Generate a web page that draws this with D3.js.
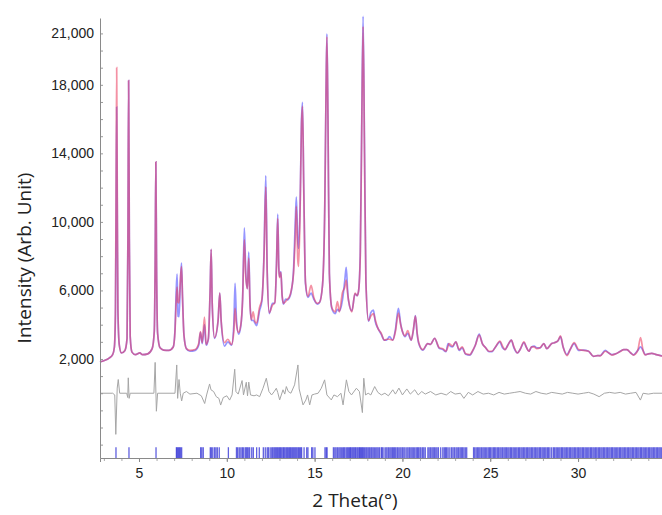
<!DOCTYPE html>
<html>
<head>
<meta charset="utf-8">
<script src="https://d3js.org/d3.v7.min.js"></script>
<style>
  body { margin: 0; background: #fff; }
  .tick text { font-family: "Liberation Sans", Arial, sans-serif; font-size: 14px; fill: #222; }
  .title { font-family: "Open Sans", sans-serif; font-size: 19px; fill: #222; }
</style>
</head>
<body>
<div id="chart"></div>
<script>
// 2 theta grid shared by observed and calculated profiles
var twoTheta = [2.78,3.0,3.3,3.5,3.6,3.66,3.70,3.73,3.76,3.80,3.88,4.0,4.20,4.32,4.37,4.41,4.45,4.50,4.60,4.8,
  5.05,5.2,5.5,5.75,5.87,5.92,5.96,6.00,6.06,6.2,6.4,6.7,6.95,7.05,7.12,7.17,7.22,7.28,7.35,7.42,
  7.48,7.56,7.7,7.9,8.2,8.4,8.5,8.6,8.73,8.82,8.95,9.05,9.11,9.17,9.3,9.5,9.6,9.68,9.87,10.06,
  10.27,10.40,10.47,10.55,10.67,10.8,10.9,11.0,11.08,11.17,11.25,11.32,11.4,11.5,11.6,11.7,11.86,12.0,12.12,12.22,
  12.30,12.42,12.6,12.74,12.83,12.90,12.96,13.0,13.08,13.15,13.23,13.35,13.45,13.55,13.68,13.8,13.90,13.96,14.04,14.09,
  14.18,14.25,14.31,14.38,14.48,14.62,14.8,14.95,15.15,15.28,15.45,15.58,15.65,15.70,15.76,15.84,15.98,16.17,16.3,16.41,
  16.58,16.72,16.80,16.88,16.93,17.12,17.3,17.42,17.5,17.6,17.68,17.76,17.84,17.92,18.07,18.2,18.35,18.45,18.6,18.79,
  18.97,19.1,19.26,19.45,19.6,19.77,19.9,20.0,20.15,20.3,20.5,20.62,20.74,20.84,20.93,21.16,21.44,21.6,21.83,22.1,
  22.3,22.48,22.6,22.66,22.85,23.04,23.23,23.4,23.6,23.85,23.98,24.15,24.37,24.55,24.74,24.93,25.1,25.3,25.55,25.7,
  25.84,26.0,26.2,26.35,26.55,26.7,26.92,27.05,27.2,27.35,27.5,27.65,27.84,28.05,28.22,28.5,28.65,28.85,29.0,29.15,
  29.37,29.55,29.78,30.03,30.3,30.6,30.88,31.1,31.26,31.55,31.75,31.93,32.15,32.4,32.6,32.78,33.0,33.16,33.4,33.56,
  33.7,33.83,34.0,34.2,34.45,34.78];

var observed = [1820,1900,2050,2250,2700,5000,13000,19000,12500,5000,2800,2350,2500,3200,9000,18250,9000,3300,2400,2250,
  2350,2250,2300,2600,3600,7500,13500,7500,3500,2650,2520,2500,2700,3600,5400,6200,5300,5270,6500,7390,
  5500,3400,2600,2500,2550,2900,3600,2950,4450,2850,3200,6000,8400,5200,3250,4200,5850,4200,2950,3150,
  2850,3600,4950,4000,3550,4000,5500,8950,6800,6100,7880,5200,4300,4750,4200,4100,5000,5500,8000,12050,
  7000,4700,5150,5300,7500,10200,7300,6750,7050,5700,5250,5350,5500,5600,6050,7000,9200,10900,7800,7400,
  11000,15500,16750,12000,6500,5650,6300,5600,5250,5300,6300,11000,17500,20800,16000,7000,5000,4750,5350,4750,
  5850,6200,6600,5800,5450,4750,5850,5700,5950,8000,15000,21400,14000,6500,4250,4500,4650,4300,3800,3500,
  3100,3150,3150,3100,3600,4670,4000,3600,3350,3650,3100,3700,4500,3500,2950,2550,2900,2850,3200,2650,
  2600,2450,2750,2900,2750,3000,2550,2700,2300,2250,2450,2800,3400,2900,2650,2450,2450,2700,3050,2750,
  2550,2800,3100,2700,2350,2550,3000,2700,2450,2700,2700,2600,2650,2900,2600,2900,2950,3050,3350,2700,
  2200,2550,2950,2550,2500,2450,2150,2200,2180,2450,2350,2230,2300,2430,2550,2550,2350,2230,2500,3250,
  2500,2240,2300,2330,2250,2170];

var calculated = [1820,1900,2050,2250,2700,4600,11500,16700,11200,4700,2800,2350,2500,3200,9000,18250,9000,3300,2400,2250,
  2350,2250,2300,2600,3600,7500,13500,7500,3500,2650,2520,2500,2700,3700,6000,6950,4500,4470,6300,7590,
  5600,3400,2600,2450,2500,2800,3550,2900,4000,2800,3150,6000,8400,5200,3200,4200,5850,4200,2750,3000,
  2800,4000,6420,4300,3450,3950,5500,9650,7000,6100,8230,5300,4250,4250,4100,3950,4800,5400,8200,12700,
  7200,4650,5250,5250,7600,10450,7400,6800,7100,5700,5200,5500,5450,5550,6000,7200,10000,11450,8900,8450,
  11300,15800,16980,12200,6400,5600,5850,5500,5200,5300,6300,11000,17600,20980,16100,7000,4950,4650,4900,4800,
  5400,6600,7350,6000,5400,4800,5800,5700,5950,8200,15500,22000,14500,6600,4200,4700,4850,4200,3800,3450,
  3100,3100,3300,3100,3700,4960,4050,3600,3300,3500,3100,3650,4530,3450,2900,2520,2900,2850,3200,2620,
  2550,2420,2900,2800,2700,3000,2500,2650,2280,2230,2430,2800,3450,2900,2650,2420,2430,2700,3000,2650,
  2550,2800,3100,2650,2350,2550,2950,2700,2450,2700,2750,2650,2650,2900,2600,2900,2950,3050,3300,2700,
  2250,2550,2900,2500,2520,2450,2150,2200,2200,2500,2350,2250,2300,2450,2550,2550,2350,2240,2500,2700,
  2500,2250,2300,2330,2250,2180];

// difference curve (obs - calc), read separately
var diffTheta = [2.78,3.5,3.62,3.68,3.76,3.82,3.9,4.3,4.36,4.39,4.44,4.5,5.85,5.92,5.99,6.06,7.05,7.15,7.2,7.28,
  7.35,7.43,7.52,7.7,7.9,8.3,8.55,8.74,8.85,9.02,9.1,9.25,9.4,9.55,9.65,9.8,10.0,10.16,10.3,10.45,
  10.52,10.65,10.87,10.95,11.11,11.18,11.25,11.35,11.55,11.7,11.87,12.06,12.25,12.4,12.55,12.7,12.82,12.9,13.01,13.2,
  13.3,13.39,13.5,13.65,13.86,14.05,14.12,14.34,14.5,14.6,14.72,14.85,15.0,15.2,15.38,15.57,15.7,15.95,16.1,16.3,
  16.5,16.62,16.81,16.95,17.1,17.38,17.55,17.72,17.8,17.9,18.05,18.2,18.42,18.6,18.8,19.0,19.2,19.45,19.6,19.8,
  20.0,20.25,20.45,20.7,20.9,21.1,21.3,21.6,21.9,22.2,22.5,22.75,23.0,23.3,23.5,23.75,24.0,24.3,24.6,24.9,
  25.2,25.5,25.8,26.1,26.4,26.7,27.0,27.3,27.6,27.9,28.2,28.5,28.8,29.1,29.4,29.7,30.0,30.3,30.6,30.9,
  31.2,31.5,31.8,32.1,32.4,32.7,33.0,33.3,33.55,33.7,34.0,34.3,34.78];
var difference = [0,0,-100,-2400,300,800,0,0,-250,900,-300,0,0,1800,-1050,0,0,1650,-300,800,
  0,-450,0,100,-50,0,-150,-600,-100,540,200,100,-200,-300,-690,-250,-150,-400,-100,1400,
  100,-50,740,-100,640,-150,650,-100,-150,-100,-200,290,875,100,-100,100,290,50,-390,200,
  -50,390,100,0,490,1650,250,-680,-400,-100,-680,-100,-50,0,290,780,-100,-390,-100,-200,
  0,-680,780,100,-100,290,100,-1130,875,-100,0,-100,390,50,-100,0,-150,200,-50,300,
  -100,250,-50,200,-100,100,-50,100,-100,0,-100,100,-50,0,-300,50,-100,100,-50,0,
  -100,50,-50,0,50,100,0,-50,100,0,-50,50,0,-50,50,0,-50,0,50,-50,
  -200,0,50,0,50,-50,0,50,-400,0,-50,0,0];

// Bragg reflection positions
var reflections = [3.69,4.43,5.97,7.13,7.18,7.24,7.3,7.36,7.43,8.51,8.58,8.66,9.06,9.12,9.2,9.3,9.38,9.46,9.57,10.09,
  10.55,10.62,10.71,10.8,10.88,10.94,11.04,11.1,11.16,11.22,11.3,11.42,11.51,11.7,11.85,12.08,12.19,12.3,12.37,12.47,
  12.56,12.62,12.69,12.75,12.81,12.87,12.93,13.0,13.06,13.13,13.2,13.25,13.31,13.38,13.44,13.5,13.57,13.63,13.7,13.76,
  13.82,13.88,13.94,14.0,14.07,14.13,14.2,14.26,14.4,14.55,14.62,14.83,14.9,15.02,15.59,15.66,15.71,16.07,16.15,16.22,
  16.3,16.38,16.45,16.52,16.6,16.66,16.72,16.8,16.87,16.94,17.0,17.05,17.12,17.18,17.24,17.3,17.35,17.42,17.48,17.55,
  17.6,17.66,17.72,17.78,17.85,17.92,17.98,18.05,18.12,18.2,18.26,18.33,18.4,18.48,18.55,18.62,18.7,18.8,18.86,18.95,
  19.05,19.12,19.2,19.28,19.35,19.42,19.48,19.55,19.62,19.7,19.76,19.85,19.92,20.0,20.08,20.15,20.25,20.32,20.4,20.48,
  20.55,20.62,20.7,20.78,20.85,20.92,21.0,21.06,21.15,21.22,21.3,21.45,21.52,21.6,21.68,21.75,21.82,21.9,21.97,22.05,
  22.18,22.3,22.38,22.45,22.52,22.6,22.7,22.8,22.88,22.96,23.05,23.12,23.2,23.28,23.35,23.42,23.5,23.58,23.66,24.05,
  24.12,24.2,24.28,24.35,24.42,24.5,24.58,24.65,24.72,24.8,24.88,24.95,25.02,25.1,25.18,25.25,25.32,25.4,25.47,25.55,
  25.62,25.7,25.78,25.85,25.92,26.0,26.07,26.15,26.22,26.3,26.37,26.45,26.52,26.6,26.67,26.75,26.82,26.9,26.97,27.05,
  27.12,27.2,27.27,27.35,27.42,27.5,27.57,27.65,27.72,27.8,27.87,27.95,28.02,28.1,28.17,28.25,28.32,28.4,28.5,28.6,
  28.67,28.75,28.82,28.9,28.97,29.05,29.12,29.2,29.27,29.35,29.42,29.5,29.57,29.65,29.72,29.8,29.87,29.95,30.02,30.1,
  30.17,30.25,30.32,30.4,30.47,30.55,30.62,30.7,30.77,30.85,30.92,31.0,31.07,31.15,31.22,31.3,31.37,31.45,31.52,31.6,
  31.67,31.75,31.82,31.9,31.97,32.05,32.12,32.2,32.27,32.35,32.42,32.5,32.57,32.65,32.72,32.8,32.87,32.95,33.02,33.1,
  33.17,33.25,33.32,33.4,33.47,33.55,33.62,33.7,33.77,33.85,33.92,34.0,34.07,34.15,34.22,34.3,34.37,34.45,34.52,34.6,
  34.67,34.74];

var yTickValues = [2000, 6000, 10000, 14000, 18000, 21000];
var xTickValues = [5, 10, 15, 20, 25, 30];

var width = 662, height = 515;
var margin = {top: 18, right: 0, bottom: 57, left: 100};

var svg = d3.select("#chart").append("svg")
    .attr("width", width)
    .attr("height", height);

var x = d3.scaleLinear()
    .domain([2.78, 34.78])
    .range([margin.left, width - margin.right]);

var y = d3.scaleLinear()
    .domain([-3780, 21900])
    .range([height - margin.bottom, margin.top]);

var plot = svg.append("g");

// Bragg tick marks
plot.selectAll(".bragg")
  .data(reflections)
  .enter()
  .append("line")
  .attr("class", "bragg")
  .attr("x1", function(d) { return x(d); })
  .attr("x2", function(d) { return x(d); })
  .attr("y1", y(-3150))
  .attr("y2", y(-3780))
  .attr("stroke", "#1c1cd2")
  .attr("stroke-opacity", 0.7)
  .attr("stroke-width", 1.3);

// difference curve
var diffLine = d3.line()
    .x(function(d) { return x(d[0]); })
    .y(function(d) { return y(d[1]); });

plot.append("path")
  .datum(d3.zip(diffTheta, difference))
  .attr("fill", "none")
  .attr("stroke", "#a6a6a6")
  .attr("stroke-width", 1)
  .attr("d", diffLine);

var profile = d3.line()
    .curve(d3.curveMonotoneX)
    .x(function(d) { return x(d[0]); })
    .y(function(d) { return y(d[1]); });

plot.append("path")
  .datum(d3.zip(twoTheta, calculated))
  .attr("fill", "none")
  .attr("stroke", "rgba(80,80,255,0.6)")
  .attr("stroke-width", 1.7)
  .attr("d", profile);

plot.append("path")
  .datum(d3.zip(twoTheta, observed))
  .attr("fill", "none")
  .attr("stroke", "rgba(235,55,90,0.55)")
  .attr("stroke-width", 1.7)
  .attr("d", profile);

// axes
var yMinor = d3.range(-3000, 22000, 1000);
var yAxisMinor = svg.append("g")
    .attr("transform", "translate(" + margin.left + ",0)")
    .call(d3.axisLeft(y).tickValues(yMinor).tickSize(-3).tickFormat(""));
yAxisMinor.select(".domain").remove();
yAxisMinor.selectAll("line").attr("stroke", "#999");

var yAxis = svg.append("g")
    .attr("transform", "translate(" + margin.left + ",0)")
    .call(d3.axisLeft(y).tickValues(yTickValues).tickSize(0).tickPadding(6).tickFormat(d3.format(",")));
yAxis.select(".domain").attr("stroke", "#8a8a8a");

var xMinor = d3.range(3, 35, 1);
var xAxisMinor = svg.append("g")
    .attr("transform", "translate(0," + (height - margin.bottom) + ")")
    .call(d3.axisBottom(x).tickValues(xMinor).tickSize(3).tickFormat(""));
xAxisMinor.select(".domain").remove();
xAxisMinor.selectAll("line").attr("stroke", "#aaa");

var xAxis = svg.append("g")
    .attr("transform", "translate(0," + (height - margin.bottom) + ")")
    .call(d3.axisBottom(x).tickValues(xTickValues).tickSize(4).tickPadding(6));
xAxis.select(".domain").attr("stroke", "#8a8a8a");
xAxis.selectAll(".tick line").attr("stroke", "#8a8a8a");

// titles
svg.append("text")
  .attr("class", "title")
  .attr("x", 355)
  .attr("y", 507)
  .attr("text-anchor", "middle")
  .text("2 Theta(°)");

svg.append("text")
  .attr("class", "title")
  .attr("transform", "translate(31,258) rotate(-90)")
  .attr("text-anchor", "middle")
  .text("Intensity (Arb. Unit)");
</script>
</body>
</html>
